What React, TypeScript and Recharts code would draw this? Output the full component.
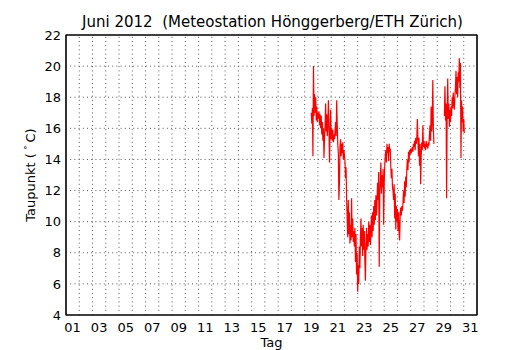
import React from 'react';
import { LineChart, Line, XAxis, YAxis, ReferenceArea, ReferenceLine } from 'recharts';

// Zeitachse in Tagen seit 1. Juni 00:00; Messreihe ab 19. Juni 12:00, stündlich
const startDay = 18.5;
const stepDay = 1 / 24;

// Taupunkt in °C, null = Datenlücke
const dewPoint: (number | null)[] = [
  17.0, 16.3, 17.3, 14.2, 20.0, 16.8, 18.2, 17.0, 18.0, 16.5, 17.4, 16.4, 17.0,
  16.6, 17.1, 16.2, 16.9, 16.0, 16.8, 15.6, 16.4, 15.2, 16.0, 14.1, 15.4,
  16.2, 17.6, 15.8, 16.9, 15.5, 16.3, 17.8, 15.9, 13.8, 15.6, 17.2, 15.3,
  16.0, 15.2, 15.9, 15.1, 15.6, 15.3, 15.8, 16.4, 15.5, 17.8, 16.2, 15.0, 14.4, 11.4, 12.5,
  14.8, 15.3, 14.2, 15.0, 14.4, 15.1, 14.0, 14.6, 14.3, 13.9, 12.8, 13.5, 11.4, 10.2, 9.0,
  11.4, 9.2, 10.6, 8.6, 9.8, 8.8, 11.5, 9.0, 10.2, 8.7, 9.4, 8.4, 9.6,
  7.4, 9.2, 6.6, 8.0, 5.5, 7.2, 6.0, 8.4, 7.0, 9.0, 10.2, 8.4, 9.6, 7.8, 9.8, 8.2, 9.4, 7.5,
  6.2, 8.5, 9.6, 8.2, 9.2, 8.4, 10.0, 8.7, 9.8, 8.5, 9.4, 10.4, 9.0,
  10.6, 9.4, 11.0, 9.8, 11.4, 10.1, 11.7, 10.4, 11.2, 12.5, 11.4, 13.2, 7.1, 11.8, 12.8,
  13.8, 11.8, 13.0, 12.2, 13.4, 9.8, 12.4, 13.6, 14.2, 14.6, 13.8, 15.0, 14.4, 14.8, 13.9, 15.0, 14.5, 14.7,
  13.5, 12.8, 13.4, 12.2, 12.0, 11.4, 12.4, 10.2, 11.8, 9.5, 11.0, 10.0, 10.8, 9.4, 10.6, 9.2, 8.8,
  10.6, 10.9, 10.4, 11.0, 10.7, 11.2, 12.0, 11.2, 12.6, 11.6, 12.9, 12.2, 13.4,
  14.0, 13.3, 14.5, 13.8, 14.6, 14.3, 14.7, 14.4, 14.6, 14.8, 14.5, 15.0,
  14.8, 15.2, 14.6, 15.4, 15.0, 15.3, 16.6, 15.4, 14.2, 15.4, 13.6, 15.0, 12.4, 14.2, 15.1,
  14.6, 16.2, 14.8, 15.2, 14.7, 15.0, 14.6, 15.2, 14.8, 15.0, 14.7, 15.1, 14.9,
  15.6, 16.2, 15.2, 17.4, 15.8, 16.4, 19.1, 16.0, 15.0,
  null, null, null, null, null, null, null, null, null,
  null, null, null, null, null, null, null, null, null,
  16.8, 18.7, 16.5, 17.6, 11.5, 17.0, 19.2, 16.6, 17.6, 16.1, 17.2, 16.4, 17.4, 16.8,
  18.0, 17.3, 18.3, 17.6, 17.2, 18.1, 18.6, 19.7, 18.2, 19.3, 18.0, 19.6,
  19.0, 20.5, 18.6, 20.2, 14.1, 17.8, 16.4, 17.4, 15.8, 16.6, 15.7,
];

const dayBounds = [1, 2, 3, 4, 5, 6, 7, 8, 9, 10, 11, 12, 13, 14, 15, 16, 17, 18, 19, 20, 21, 22, 23, 24, 25, 26, 27, 28, 29, 30];
const dayLabels = [1, 3, 5, 7, 9, 11, 13, 15, 17, 19, 21, 23, 25, 27, 29, 31];
const yTicks = [4, 6, 8, 10, 12, 14, 16, 18, 20, 22];
const yGrid = [6, 8, 10, 12, 14, 16, 18, 20];

const data = dewPoint.map((v, i) => ({ t: startDay + i * stepDay, v }));

function YTitle() {
  // matplotlib-style "Taupunkt ($^\circ$C)"
  return (
    <text
      transform="translate(30,175) rotate(-90)"
      textAnchor="middle"
      dominantBaseline="central"
      fontSize={13}
      fill="#000"
    >
      Taupunkt (
      <tspan dx={3} dy={-5} fontSize={9}>∘</tspan>
      <tspan dx={2} dy={5}>C)</tspan>
    </text>
  );
}

export default function App() {
  const tickText = { fill: '#000', fontSize: 13 };
  const hidden = {
    dataKey: 'v',
    stroke: 'none',
    dot: false,
    activeDot: false,
    isAnimationActive: false,
    legendType: 'none' as const,
  };
  const gridStyle = { stroke: '#555', strokeDasharray: '1 3.2', strokeWidth: 1 };
  return (
    <div
      style={{
        position: 'absolute',
        left: 0,
        top: 0,
        width: 530,
        height: 350,
        background: '#fff',
        fontFamily: '"DejaVu Sans", sans-serif',
      }}
    >
      <div
        style={{
          position: 'absolute',
          left: 0,
          width: 545,
          top: 13,
          lineHeight: '18px',
          fontSize: 15,
          textAlign: 'center',
          whiteSpace: 'pre',
          color: '#000',
        }}
      >
        {'Juni 2012  (Meteostation Hönggerberg/ETH Zürich)'}
      </div>
      <LineChart
        width={530}
        height={350}
        data={data}
        margin={{ top: 35, right: 53, left: 26, bottom: 0 }}
      >
        <XAxis
          xAxisId="lab"
          dataKey="t"
          type="number"
          domain={[0, 31]}
          allowDataOverflow
          ticks={dayLabels.map((d) => d - 0.5)}
          tickFormatter={(v: number) => String(Math.round(v + 0.5)).padStart(2, '0')}
          height={35}
          axisLine={false}
          tickLine={false}
          tickSize={6}
          tickMargin={2}
          tick={tickText}
          interval={0}
          label={{ value: 'Tag', position: 'insideBottom', offset: 3, fill: '#000', fontSize: 13 }}
        />
        <YAxis
          yAxisId="lab"
          type="number"
          domain={[4, 22]}
          allowDataOverflow
          ticks={yTicks}
          width={40}
          axisLine={false}
          tickLine={false}
          tickSize={3}
          tickMargin={2}
          tick={tickText}
          interval={0}
          label={<YTitle />}
        />
        {/* inward ticks on all four sides (matplotlib classic) */}
        <XAxis
          dataKey="t"
          type="number"
          domain={[0, 31]}
          allowDataOverflow
          ticks={dayBounds}
          interval={0}
          mirror
          height={1}
          tick={false}
          tickSize={5}
          stroke="#000"
        />
        <XAxis
          xAxisId="top"
          dataKey="t"
          orientation="top"
          type="number"
          domain={[0, 31]}
          allowDataOverflow
          ticks={dayBounds}
          interval={0}
          mirror
          height={1}
          tick={false}
          tickSize={5}
          stroke="#000"
        />
        <YAxis
          type="number"
          domain={[4, 22]}
          allowDataOverflow
          ticks={yTicks}
          interval={0}
          mirror
          width={1}
          tick={false}
          tickSize={5}
          stroke="#000"
        />
        <YAxis
          yAxisId="right"
          orientation="right"
          type="number"
          domain={[4, 22]}
          allowDataOverflow
          ticks={yTicks}
          interval={0}
          mirror
          width={1}
          tick={false}
          tickSize={5}
          stroke="#000"
        />
        {/* dotted grid: every day boundary, every 2 °C */}
        {dayBounds.map((d) => (
          <ReferenceLine key={`x${d}`} x={d} {...gridStyle} />
        ))}
        {yGrid.map((g) => (
          <ReferenceLine key={`y${g}`} y={g} {...gridStyle} />
        ))}
        <Line xAxisId="lab" yAxisId="lab" {...hidden} />
        <Line xAxisId="top" yAxisId="right" {...hidden} />
        <Line
          dataKey="v"
          stroke="#ff0000"
          strokeWidth={1.2}
          dot={false}
          activeDot={false}
          isAnimationActive={false}
          connectNulls={false}
          type="linear"
        />
        {/* plot frame */}
        <ReferenceArea
          x1={0}
          x2={31}
          y1={4}
          y2={22}
          fill="none"
          stroke="#000"
          strokeWidth={1.2}
          ifOverflow="visible"
        />
      </LineChart>
    </div>
  );
}
